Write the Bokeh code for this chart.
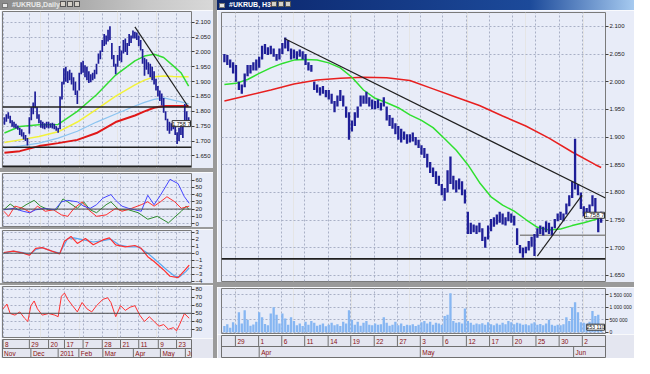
from bokeh.plotting import figure
from bokeh.models import Range1d, FixedTicker, Grid, Div, Label, PrintfTickFormatter, Span
from bokeh.layouts import row, column
from bokeh.core.properties import value
from bokeh.embed import file_html
from bokeh.resources import INLINE

# ---------------- data: right window (H3 bars) ----------------
r_x = list(range(-4, 127))
r_high = [2.050, 2.048, 2.040, 2.035,
          2.030, 2.000, 1.995, 2.015, 2.030, 2.030, 2.035, 2.040, 2.045, 2.065,
          2.068, 2.062, 2.065, 2.060, 2.050, 2.060, 2.070, 2.080, 2.075, 2.060,
          2.058, 2.055, 2.058, 2.055, 2.050, 2.035, 2.030, 2.000, 1.995, 1.990,
          1.992, 1.985, 1.985, 1.978, 1.965, 1.975, 1.985, 1.975, 1.955, 1.945,
          1.930, 1.945, 1.955, 1.975, 1.975, 1.982, 1.972, 1.968, 1.965, 1.968,
          1.962, 1.972, 1.955, 1.940, 1.935, 1.925, 1.920, 1.915, 1.910, 1.905,
          1.905, 1.908, 1.900, 1.895, 1.885, 1.880, 1.870, 1.855, 1.845, 1.838,
          1.830, 1.815, 1.808, 1.840, 1.865, 1.830, 1.822, 1.825, 1.820, 1.805,
          1.765, 1.745, 1.742, 1.740, 1.745, 1.735, 1.720, 1.740, 1.752, 1.755,
          1.760, 1.765, 1.762, 1.755, 1.765, 1.762, 1.758, 1.735, 1.705, 1.700,
          1.702, 1.712, 1.720, 1.725, 1.735, 1.740, 1.738, 1.748, 1.745, 1.738,
          1.752, 1.762, 1.765, 1.762, 1.780, 1.795, 1.820, 1.897, 1.815, 1.800,
          1.775, 1.772, 1.778, 1.795, 1.790, 1.760, 1.765]
r_low = [2.035, 2.030, 2.025, 2.015,
         2.000, 1.985, 1.978, 1.990, 2.010, 2.015, 2.020, 2.020, 2.025, 2.040,
         2.050, 2.048, 2.050, 2.045, 2.038, 2.040, 2.050, 2.060, 2.055, 2.040,
         2.042, 2.040, 2.045, 2.040, 2.030, 2.020, 2.018, 1.985, 1.980, 1.975,
         1.978, 1.972, 1.968, 1.960, 1.945, 1.955, 1.965, 1.955, 1.935, 1.895,
         1.910, 1.920, 1.935, 1.955, 1.960, 1.960, 1.955, 1.950, 1.950, 1.952,
         1.948, 1.955, 1.930, 1.920, 1.915, 1.905, 1.895, 1.890, 1.895, 1.888,
         1.890, 1.892, 1.885, 1.880, 1.868, 1.862, 1.845, 1.835, 1.828, 1.815,
         1.812, 1.795, 1.785, 1.800, 1.815, 1.805, 1.800, 1.805, 1.795, 1.780,
         1.725, 1.725, 1.728, 1.725, 1.728, 1.712, 1.700, 1.715, 1.730, 1.738,
         1.742, 1.745, 1.742, 1.740, 1.748, 1.745, 1.740, 1.705, 1.690, 1.682,
         1.690, 1.695, 1.702, 1.685, 1.718, 1.725, 1.722, 1.728, 1.725, 1.722,
         1.735, 1.748, 1.750, 1.748, 1.760, 1.775, 1.790, 1.805, 1.795, 1.770,
         1.757, 1.758, 1.760, 1.775, 1.755, 1.728, 1.745]
r_vol_k = [250, 320, 180, 400,
           300, 800, 350, 880, 500, 260, 310, 420, 800, 600,
           330, 280, 750, 1000, 700, 350, 750, 550, 300, 600,
           450, 280, 350, 250, 420, 300, 450, 380, 260, 300,
           350, 240, 300, 380, 280, 320, 250, 420, 350, 880,
           500, 300, 420, 260, 380, 450, 300, 280, 350, 300,
           320, 600, 380, 260, 300, 420, 280, 350, 250, 300,
           280, 320, 250, 300, 400, 450, 350, 420, 300, 380,
           350, 300, 650, 700, 1560, 450, 380, 400, 350, 950,
           450, 380, 300, 350, 320, 360, 300, 400, 320, 280,
           350, 300, 380, 320, 450, 400, 320, 380, 350, 300,
           320, 280, 350, 400, 300, 330, 280, 350, 500, 300,
           260, 300, 280, 320, 600, 450, 1000, 1200, 800, 400,
           380, 350, 420, 850, 650, 700, 250]

r_ma_fast_x = [-4, 0, 4, 8, 12, 16, 20, 24, 28, 32, 36, 40, 44, 48, 52, 56, 60,
               64, 68, 72, 76, 80, 84, 88, 92, 96, 100, 104, 108, 112, 116, 120, 124, 126]
r_ma_fast = [1.995, 1.997, 2.004, 2.015, 2.025, 2.033, 2.039, 2.040, 2.039, 2.034,
             2.025, 2.008, 1.985, 1.970, 1.962, 1.953, 1.940, 1.930, 1.917, 1.897,
             1.876, 1.850, 1.818, 1.792, 1.777, 1.766, 1.751, 1.737, 1.732, 1.734,
             1.740, 1.745, 1.751, 1.756]
r_ma_slow_x = [-4, 4, 12, 20, 28, 36, 44, 52, 60, 68, 76, 84, 92, 100, 108, 116, 124, 126]
r_ma_slow = [1.965, 1.975, 1.985, 1.996, 2.003, 2.006, 2.008, 2.007, 2.002, 1.987,
             1.972, 1.957, 1.938, 1.920, 1.898, 1.873, 1.850, 1.845]
r_down_x = [16.7, 127.5]
r_down_y = [2.078, 1.790]
r_up_x = [104, 119.4]
r_up_y = [1.685, 1.795]
r_support = 1.680
r_grey_x = [98, 127.5]
r_grey_y = [1.7227, 1.7227]
r_last = 1.7587
r_last_vol = 253110

r_price_ticks = [1.65, 1.70, 1.75, 1.80, 1.85, 1.90, 1.95, 2.00, 2.05, 2.10]
r_vol_ticks = [0, 500000, 1000000, 1500000]
r_vol_labels = ["0", "500 000", "1 000 000", "1 500 000"]
r_day_pos = [-0.2, 7.8, 15.8, 23.7, 31.8, 39.6, 47.7, 55.7, 63.6, 71.4, 79.5, 87.5, 95.5, 103.5, 111.5, 119.5]
r_day_lab = ["29", "1", "6", "11", "14", "19", "22", "27", "3", "6", "12", "17", "20", "25", "30", "2"]
r_mon_pos = [8.0, 63.6, 116.5]
r_mon_lab = ["Apr", "May", "Jun"]

# ---------------- data: left window (daily bars) ----------------
l_x = list(range(1, 98))
l_high = [1.780, 1.790, 1.797, 1.785, 1.770, 1.765, 1.758, 1.752, 1.745, 1.740,
          1.730, 1.720, 1.710, 1.780, 1.815, 1.830, 1.867, 1.815, 1.790, 1.770,
          1.765, 1.760, 1.765, 1.765, 1.760, 1.762, 1.758, 1.750, 1.745, 1.850,
          1.900, 1.945, 1.950, 1.935, 1.940, 1.930, 1.915, 1.900, 1.870, 1.930,
          1.965, 1.970, 1.955, 1.950, 1.935, 1.925, 1.930, 1.940, 1.960, 1.995,
          2.005, 2.040, 2.060, 2.055, 2.075, 2.086, 2.030, 1.990, 1.960, 1.990,
          2.020, 2.005, 2.040, 2.045, 2.030, 2.060, 2.055, 2.072, 2.068, 2.065,
          2.055, 2.040, 2.010, 1.980, 1.975, 1.965, 1.960, 1.950, 1.935, 1.910,
          1.885, 1.870, 1.860, 1.845, 1.800, 1.775, 1.765, 1.760, 1.762, 1.755,
          1.730, 1.745, 1.762, 1.755, 1.825, 1.800, 1.780]
l_low = [1.755, 1.765, 1.775, 1.760, 1.748, 1.745, 1.742, 1.738, 1.720, 1.715,
         1.705, 1.700, 1.685, 1.725, 1.770, 1.790, 1.810, 1.775, 1.760, 1.745,
         1.742, 1.740, 1.745, 1.742, 1.745, 1.742, 1.740, 1.735, 1.728, 1.740,
         1.840, 1.890, 1.900, 1.895, 1.905, 1.890, 1.870, 1.855, 1.825, 1.870,
         1.925, 1.930, 1.915, 1.905, 1.895, 1.898, 1.905, 1.910, 1.925, 1.960,
         1.975, 2.000, 2.020, 2.025, 2.035, 2.040, 1.975, 1.950, 1.925, 1.950,
         1.970, 1.965, 1.995, 2.000, 1.990, 2.020, 2.030, 2.045, 2.045, 2.040,
         2.020, 2.005, 1.960, 1.920, 1.940, 1.925, 1.915, 1.905, 1.890, 1.870,
         1.850, 1.835, 1.820, 1.795, 1.770, 1.735, 1.725, 1.735, 1.740, 1.720,
         1.690, 1.700, 1.720, 1.710, 1.760, 1.765, 1.755]
l_ma_x = [1, 9, 19, 29, 39, 49, 59, 69, 74, 79, 84, 89, 93, 97]
l_ma_green = [1.727, 1.749, 1.755, 1.756, 1.800, 1.856, 1.922, 1.970, 1.986, 1.992, 1.981, 1.953, 1.930, 1.885]
l_ma_yellow = [1.695, 1.704, 1.715, 1.731, 1.764, 1.807, 1.851, 1.889, 1.905, 1.916, 1.919, 1.917, 1.916, 1.916]
l_ma_blue = [1.677, 1.683, 1.693, 1.710, 1.733, 1.764, 1.791, 1.818, 1.830, 1.840, 1.845, 1.838, 1.832, 1.825]
l_ma_red = [1.661, 1.666, 1.683, 1.693, 1.704, 1.727, 1.764, 1.786, 1.800, 1.812, 1.818, 1.818, 1.818, 1.818]
l_trend_x = [69, 96.5]
l_trend_y = [2.084, 1.818]
l_levels = [1.815, 1.679, 1.615]
l_last = 1.7587
l_price_ticks = [1.65, 1.70, 1.75, 1.80, 1.85, 1.90, 1.95, 2.00, 2.05, 2.10]

# ADX / DMI
adx_x = [0.7, 5.7, 10.7, 14, 17.3, 22.3, 27.3, 30.7, 34, 39, 42.3, 45.7, 49, 52.3, 56.5, 59,
         62.3, 65.7, 69, 72.3, 75.7, 79, 82.3, 87.3, 91.5, 94.8, 97.3]
adx_v = [19, 21, 17, 15, 19, 21, 19, 30, 32, 30, 24, 21, 26, 35, 40, 32, 24, 21, 19, 17, 39, 26, 39, 61, 55, 37, 28]
dip_x = [0.7, 4, 8.2, 12.3, 16.5, 19.8, 24, 28.2, 31.5, 34, 39, 42.3, 45.7, 49, 54, 56.5, 60.7,
         65.7, 70.7, 75.7, 80.7, 86.5, 89.8, 93.2, 95.7, 97.3]
dip_v = [19, 27, 19, 26, 32, 24, 19, 19, 34, 30, 21, 30, 19, 15, 26, 30, 19, 19, 15, 6, 10, 1, 9, 17, 24, 19]
dim_x = [0.7, 3.2, 6.5, 10.7, 14.8, 18.2, 22.3, 26.5, 30.7, 34, 37.3, 41.5, 44.8, 49, 54, 59,
         62.3, 67.3, 72.3, 75.7, 79, 82.3, 85.7, 89.8, 93.2, 97.3]
dim_v = [17, 10, 24, 21, 15, 24, 17, 19, 12, 10, 21, 30, 19, 10, 12, 21, 17, 21, 26, 30, 24, 30, 37, 30, 21, 24]
adx_level = 20
adx_ticks = [0, 10, 20, 30, 40, 50, 60]

# MACD
macd_x = [0.7, 5.7, 10.7, 14, 17.3, 20.7, 25.7, 29.8, 32.3, 35.7, 39, 43.2, 47.3, 52.3, 55.7,
          59, 64, 69, 72.3, 75.7, 79, 84, 87.3, 91.5, 94.8, 97.3]
macd_v = [0.1, 0.3, 0, -0.3, 0.7, 0.8, 0.3, -0.1, 1.7, 2.4, 1.4, 2.1, 1.2, 1.9, 2.2, 1.2, 0.9,
          1.1, 0.7, -0.5, -1.2, -2.4, -3.3, -3.5, -2.5, -1.7]
sig_x = [0.7, 5.7, 10.7, 14, 17.3, 20.7, 25.7, 29.8, 34, 37.3, 42.3, 47.3, 52.3, 56.5, 60.7,
         65.7, 70.7, 75.7, 80.7, 85.7, 89.8, 92.3, 95.7, 97.3]
sig_v = [0, 0.3, 0.1, -0.2, 0.5, 0.8, 0.3, 0, 2.1, 2.2, 1.9, 1.6, 1.8, 2.0, 1.2, 0.9, 0.9, 0,
         -1.2, -2.4, -3.3, -3.4, -2.6, -2.1]
macd_level = 0
macd_ticks = [-4, -3, -2, -1, 0, 1, 2, 3]

# RSI
rsi_x = [0.3, 2.3, 4, 6.5, 9, 11.5, 13.2, 14.8, 16.5, 18.2, 20.7, 24, 27.3, 29, 30.7, 32.3, 34,
         36.5, 39, 41.5, 44, 46.5, 49, 52.3, 54.8, 56.5, 59, 61.5, 64, 66.5, 69, 71.5, 74, 76.5,
         79, 81.5, 84, 86.5, 89, 90.7, 92.3, 94.8, 97.3]
rsi_v = [55.6, 61.5, 49.7, 47.7, 51.7, 43.8, 39.8, 59.5, 65.4, 55.6, 47.7, 49.7, 47.7, 45.7,
         71.3, 75.3, 67.4, 59.5, 51.7, 63.5, 55.6, 51.7, 59.5, 67.4, 69.4, 63.5, 45.7, 59.5,
         53.6, 57.6, 59.5, 47.7, 39.8, 45.7, 39.8, 33.9, 35.9, 30, 32, 28, 35.9, 49.7, 43.8]
rsi_level = 50
rsi_ticks = [30, 40, 50, 60, 70, 80]

l_day_pos = [0.3, 14, 24, 32.3, 42, 52, 61.5, 71, 81.2, 90.7]
l_day_lab = ["8", "29", "20", "17", "7", "28", "21", "11", "9", "23"]
l_mon_pos = [-0.2, 14.8, 29, 39.8, 52.3, 68.2, 82.3, 95.3]
l_mon_lab = ["Nov", "Dec", "2011", "Feb", "Mar", "Apr", "May", "Jun"]

# ---------------- styling ----------------
BG = "#e8ecf8"
STRIP = "#e4e6f0"
GRID = "#a9b0c6"
FONT = "Liberation Sans"
BAR = "#1f1f98"
SEP = "#9a9a9a"

LW, RW = 213, 417
L_RB, R_RB = 22, 28


def panel(w, h, xr, yr, lb, rb, top=1, bottom=1):
    p = figure(width=w, height=h, x_range=xr, y_range=yr, output_backend="svg",
               toolbar_location=None, tools="", x_axis_location=None,
               y_axis_location="right", min_border_left=lb, min_border_right=rb,
               min_border_top=top, min_border_bottom=bottom,
               background_fill_color=BG, border_fill_color=BG,
               outline_line_color="#7a7a7a")
    return p


def style_y(p, ticks, vgrid_ticks, fmt=None, overrides=None, size="6px"):
    ax = p.yaxis[0]
    ax.ticker = FixedTicker(ticks=ticks)
    if fmt:
        ax.formatter = PrintfTickFormatter(format=fmt)
    if overrides:
        ax.major_label_overrides = overrides
    ax.axis_line_color = None
    ax.major_tick_out = 3
    ax.major_tick_in = 0
    ax.major_tick_line_color = "#404040"
    ax.minor_tick_line_color = None
    ax.major_label_text_font = FONT
    ax.major_label_text_font_size = size
    ax.major_label_text_color = "#202020"
    ax.major_label_standoff = 1
    p.ygrid.ticker = FixedTicker(ticks=ticks)
    p.ygrid.grid_line_color = GRID
    p.ygrid.grid_line_dash = "2 2"
    p.add_layout(Grid(dimension=0, ticker=FixedTicker(ticks=vgrid_ticks),
                      grid_line_color=GRID, grid_line_dash="2 2"))


def strip(w, h, xr, lb, rb, day_pos, day_lab, mon_pos, mon_lab):
    s = figure(width=w, height=h, x_range=xr, y_range=Range1d(0, 2), output_backend="svg",
               toolbar_location=None, tools="", x_axis_location=None, y_axis_location=None,
               min_border_left=lb, min_border_right=rb, min_border_top=1, min_border_bottom=1,
               background_fill_color=STRIP, border_fill_color=STRIP,
               outline_line_color="#707070")
    s.xgrid.visible = False
    s.ygrid.visible = False
    s.add_layout(Span(location=1, dimension="width", line_color="#707070", line_width=1))
    n = len(day_pos)
    s.segment(x0=day_pos, y0=[1] * n, x1=day_pos, y1=[2] * n, line_color="#707070", line_width=1)
    m = len(mon_pos)
    s.segment(x0=mon_pos, y0=[0] * m, x1=mon_pos, y1=[1] * m, line_color="#707070", line_width=1)
    s.text(x=day_pos, y=[1.5] * n, text=day_lab, x_offset=2, text_baseline="middle",
           text_font=value(FONT), text_font_size="6.5px", text_color="#8b1010")
    s.text(x=mon_pos, y=[0.5] * m, text=mon_lab, x_offset=2, text_baseline="middle",
           text_font=value(FONT), text_font_size="6.5px", text_color="#8b1010")
    return s


def sep(w, h):
    return Div(text="", width=w, height=h, margin=0, styles={"background-color": SEP})


def title(w, text, grad, color):
    icon = ('<span style="display:inline-block;width:6px;height:5px;background:#e8e8e8;'
            'border:1px solid #777;margin:0 4px 0 2px;vertical-align:middle"></span>')
    btns = ''.join('<span style="float:right;display:inline-block;width:6px;height:6px;'
                   'background:#d4d0c8;border:1px solid #555;margin:1px 1px 0 0"></span>'
                   for _ in range(3))
    return Div(text=btns + icon + text, width=w, height=10, margin=0,
               styles={"background": grad, "color": color, "font-family": FONT,
                       "font-size": "7px", "font-weight": "bold", "line-height": "10px",
                       "overflow": "hidden", "white-space": "nowrap"})


def last_box(p, xr, y, text, size):
    p.add_layout(Label(x=xr.end, y=y, x_offset=-1, text=text, text_align="right",
                       text_font=FONT, text_font_size=size, text_baseline="middle",
                       text_color="#101010", background_fill_color="white",
                       border_line_color="#303030"))


# ---------------- left window ----------------
lxr = Range1d(0, 98.5)
lp = panel(LW, 158, lxr, Range1d(1.611, 2.136), 2, L_RB)
style_y(lp, l_price_ticks, l_day_pos, fmt="%.3f")
lp.line(l_ma_x, l_ma_red, line_color="#e01818", line_width=2)
lp.line(l_ma_x, l_ma_blue, line_color="#8cc4f0", line_width=1.3)
lp.line(l_ma_x, l_ma_yellow, line_color="#f2f23a", line_width=1.5)
lp.line(l_ma_x, l_ma_green, line_color="#33dd33", line_width=1.5)
for lv in l_levels:
    lp.add_layout(Span(location=lv, dimension="width", line_color="#202020", line_width=1.5))
lp.segment(x0=l_x, y0=l_low, x1=l_x, y1=l_high, line_color=BAR, line_width=1.7)
lp.line(l_trend_x, l_trend_y, line_color="#202020", line_width=1.2)
last_box(lp, lxr, l_last, "1.758 7", "5.5px")

i1 = panel(LW, 55, lxr, Range1d(-4, 69), 2, L_RB)
style_y(i1, adx_ticks, l_day_pos)
i1.add_layout(Span(location=adx_level, dimension="width", line_color="#505050", line_width=1))
i1.line(dip_x, dip_v, line_color="#2e8b2e", line_width=1)
i1.line(dim_x, dim_v, line_color="#ff3030", line_width=1)
i1.line(adx_x, adx_v, line_color="#4646ff", line_width=1)

i2 = panel(LW, 54, lxr, Range1d(-4.2, 3.25), 2, L_RB)
style_y(i2, macd_ticks, l_day_pos)
i2.add_layout(Span(location=macd_level, dimension="width", line_color="#505050", line_width=1))
i2.line(sig_x, sig_v, line_color="#5aa8f0", line_width=1.2)
i2.line(macd_x, macd_v, line_color="#ff3030", line_width=1.2)

i3 = panel(LW, 53, lxr, Range1d(19.7, 83.5), 2, L_RB)
style_y(i3, rsi_ticks, l_day_pos)
i3.add_layout(Span(location=rsi_level, dimension="width", line_color="#505050", line_width=1))
i3.line(rsi_x, rsi_v, line_color="#ff3030", line_width=1)

ls = strip(LW, 20, lxr, 2, L_RB, l_day_pos, l_day_lab, l_mon_pos, l_mon_lab)

left = column(title(LW, "#UKRUB,Daily",
                    "linear-gradient(to right, #8a8a8a, #c8c8c8 70%, #d8d8d8)", "#e8e8e8"),
              lp, sep(LW, 4), i1, sep(LW, 2), i2, sep(LW, 2), i3, ls)

# ---------------- right window ----------------
rxr = Range1d(-5, 127.5)
rp = panel(RW, 272, rxr, Range1d(1.639, 2.125), 4, R_RB, top=2)
style_y(rp, r_price_ticks, r_day_pos, fmt="%.3f")
rp.line(r_ma_slow_x, r_ma_slow, line_color="#e82020", line_width=1.5)
rp.line(r_ma_fast_x, r_ma_fast, line_color="#2fe02f", line_width=1.5)
rp.add_layout(Span(location=r_support, dimension="width", line_color="#202020", line_width=1.8))
rp.line(r_grey_x, r_grey_y, line_color="#8a8a8a", line_width=1.5)
rp.segment(x0=r_x, y0=r_low, x1=r_x, y1=r_high, line_color=BAR, line_width=2.3)
rp.line(r_down_x, r_down_y, line_color="#202020", line_width=1.2)
rp.line(r_up_x, r_up_y, line_color="#202020", line_width=1.2)
last_box(rp, rxr, r_last, "1.758 7", "6px")

r_vol = [v * 1000 for v in r_vol_k]
vp = panel(RW, 47, rxr, Range1d(-50000, 1750000), 4, R_RB)
style_y(vp, r_vol_ticks, r_day_pos,
        overrides={t: s for t, s in zip(r_vol_ticks, r_vol_labels)}, size="5px")
vp.vbar(x=r_x, top=r_vol, width=0.8, bottom=0, fill_color="#86b6f2", line_color=None)
last_box(vp, rxr, r_last_vol * 0.8, "253 110", "5px")

rs = strip(RW, 24, rxr, 4, R_RB, r_day_pos, r_day_lab, r_mon_pos, r_mon_lab)

right = column(title(RW, "#UKRUB, H3",
                     "linear-gradient(to right, #0a246a, #1c4a9a 75%, #a6caf0)", "white"),
               rp, sep(RW, 5), vp, rs)

page = row(left, sep(4, 358), right)

open("out.html", "w").write(file_html(page, INLINE))
